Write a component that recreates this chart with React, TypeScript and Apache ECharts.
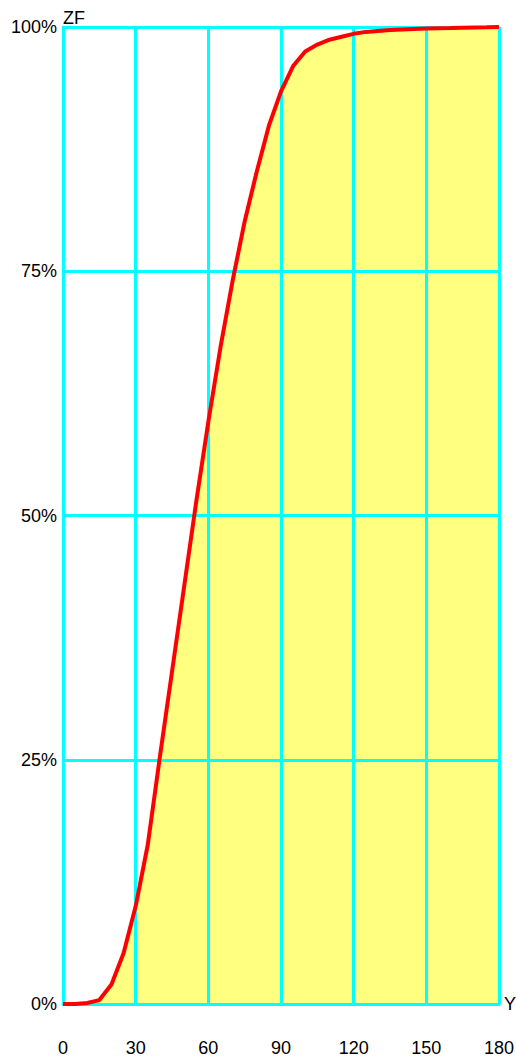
import React, { useEffect, useRef } from "react";
import * as echarts from "echarts";

const xValues = [0, 5, 10, 15, 20, 25, 30, 35, 40, 45, 50, 55, 60, 65, 70, 75, 80, 85, 90, 95, 100, 105, 110, 115, 120, 125, 130, 135, 140, 145, 150, 155, 160, 165, 170, 175, 180];
const zfValues = [0, 0, 0.1, 0.4, 2.0, 5.2, 10.0, 16.3, 25.3, 34.0, 42.7, 51.4, 59.6, 67.2, 74.0, 80.1, 85.2, 89.9, 93.4, 96.0, 97.5, 98.2, 98.7, 99.0, 99.3, 99.5, 99.6, 99.7, 99.75, 99.8, 99.85, 99.88, 99.9, 99.93, 99.95, 99.97, 100];
const xTicks = [0, 30, 60, 90, 120, 150, 180];
const yTicks = [0, 25, 50, 75, 100];

export default function App() {
  const ref = useRef<HTMLDivElement>(null);
  useEffect(() => {
    document.body.style.margin = "0";
    document.documentElement.style.overflow = "hidden";
    document.body.style.overflow = "hidden";
    if (!ref.current) return;
    const chart = echarts.init(ref.current, undefined, { renderer: "svg" });
    const font = "'Liberation Sans', Arial, Helvetica, sans-serif";
    const data = xValues.map((x, i) => [x, zfValues[i]]);
    chart.setOption({
      animation: false,
      backgroundColor: "#ffffff",
      grid: { left: 63, right: 17, top: 27, bottom: 53, containLabel: false, outerBoundsMode: "none" },
      xAxis: {
        type: "value",
        z: 3,
        min: xTicks[0],
        max: xTicks[xTicks.length - 1],
        interval: 30,
        name: "Y",
        nameLocation: "end",
        nameGap: 5,
        nameTextStyle: { color: "#000", fontSize: 18, lineHeight: 16, fontFamily: font, align: "left", verticalAlign: "middle" },
        axisLine: { show: true, lineStyle: { color: "#00ffff", width: 3 } },
        axisTick: { show: false },
        axisLabel: { color: "#000", fontSize: 18, lineHeight: 16, fontFamily: font, margin: 36 },
        splitLine: { show: true, lineStyle: { color: "#00ffff", width: 3 } },
      },
      yAxis: {
        type: "value",
        z: 3,
        min: yTicks[0],
        max: yTicks[yTicks.length - 1],
        interval: 25,
        name: "ZF",
        nameLocation: "end",
        nameGap: 9,
        nameTextStyle: { color: "#000", fontSize: 18, lineHeight: 16, fontFamily: font, align: "left", verticalAlign: "middle" },
        axisLine: { show: true, lineStyle: { color: "#00ffff", width: 3 } },
        axisTick: { show: false },
        axisLabel: { color: "#000", fontSize: 18, lineHeight: 16, fontFamily: font, margin: 6, formatter: "{value}%" },
        splitLine: { show: true, lineStyle: { color: "#00ffff", width: 3 } },
      },
      series: [
        {
          type: "line",
          data,
          showSymbol: false,
          symbol: "none",
          lineStyle: { width: 0, opacity: 0 },
          areaStyle: { color: "#ffff80", opacity: 1 },
          z: 1,
          silent: true,
        },
        {
          type: "line",
          data,
          showSymbol: false,
          symbol: "none",
          lineStyle: { color: "#ff0000", width: 4 },
          z: 5,
        },
      ],
    });
    return () => chart.dispose();
  }, []);
  return <div ref={ref} style={{ width: 516, height: 1057, position: "absolute", left: 0, top: 0 }} />;
}
